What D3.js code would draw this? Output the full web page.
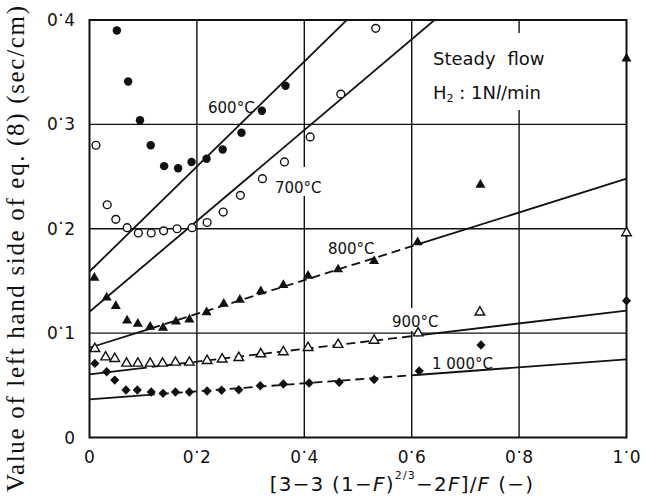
<!DOCTYPE html>
<html>
<head>
<meta charset="utf-8">
<script src="https://cdn.jsdelivr.net/npm/d3@7"></script>
<style>
  body { margin: 0; background: #fff; }
  svg { display: block; }
</style>
</head>
<body>
<svg id="chart" width="645" height="497"></svg>
<script>
// Axis ticks
const xTicks = [0, 0.2, 0.4, 0.6, 0.8, 1.0];
const xTickLabels = ["0", "0·2", "0·4", "0·6", "0·8", "1·0"];
const yTicks = [0, 0.1, 0.2, 0.3, 0.4];
const yTickLabels = ["0", "0·1", "0·2", "0·3", "0·4"];

// Series: temperature labels and measured points
const temps = ["600°C", "700°C", "800°C", "900°C", "1 000°C"];

const x600 = [0.051, 0.072, 0.094, 0.114, 0.139, 0.165, 0.190, 0.218, 0.248, 0.283, 0.321, 0.365];
const y600 = [0.390, 0.341, 0.304, 0.280, 0.260, 0.258, 0.264, 0.267, 0.276, 0.292, 0.313, 0.337];

const x700 = [0.012, 0.033, 0.049, 0.070, 0.091, 0.115, 0.138, 0.163, 0.191, 0.219, 0.249, 0.281, 0.322, 0.363, 0.411, 0.468, 0.533];
const y700 = [0.280, 0.223, 0.209, 0.201, 0.196, 0.196, 0.198, 0.200, 0.201, 0.206, 0.216, 0.232, 0.248, 0.264, 0.288, 0.329, 0.392];

const x800 = [0.009, 0.032, 0.049, 0.070, 0.090, 0.113, 0.137, 0.161, 0.186, 0.218, 0.250, 0.280, 0.319, 0.361, 0.407, 0.463, 0.530, 0.611, 0.728, 1.0];
const y800 = [0.153, 0.134, 0.126, 0.112, 0.109, 0.106, 0.105, 0.111, 0.113, 0.120, 0.128, 0.132, 0.140, 0.146, 0.155, 0.161, 0.169, 0.187, 0.242, 0.363];

const x900 = [0.010, 0.030, 0.047, 0.069, 0.090, 0.113, 0.136, 0.160, 0.186, 0.219, 0.247, 0.278, 0.319, 0.361, 0.407, 0.463, 0.530, 0.612, 0.727, 1.0];
const y900 = [0.085, 0.077, 0.0755, 0.071, 0.071, 0.071, 0.071, 0.072, 0.072, 0.0736, 0.075, 0.0765, 0.080, 0.082, 0.086, 0.089, 0.093, 0.100, 0.120, 0.196];

const x1000 = [0.010, 0.032, 0.047, 0.068, 0.089, 0.115, 0.137, 0.160, 0.186, 0.219, 0.246, 0.278, 0.318, 0.361, 0.409, 0.465, 0.530, 0.614, 0.729, 1.0];
const y1000 = [0.071, 0.063, 0.055, 0.0455, 0.0455, 0.0436, 0.0423, 0.0436, 0.0436, 0.0446, 0.0452, 0.0458, 0.0496, 0.0512, 0.0522, 0.0530, 0.0555, 0.0637, 0.0886, 0.131];

// Fitted straight lines: intercept, slope, and the span drawn dashed
const fitIntercept = [0.159, 0.1205, 0.086, 0.0605, 0.0366];
const fitSlope     = [0.503, 0.435, 0.162, 0.061, 0.0383];
const dashFrom     = [null, null, 0.115, 0.090, 0.105];
const dashTo       = [null, null, 0.611, 0.612, 0.614];

const seriesX = [x600, x700, x800, x900, x1000];
const seriesY = [y600, y700, y800, y900, y1000];

// ---- layout ----
const svg = d3.select("#chart");
const ink = "#111";
const x = d3.scaleLinear().domain([0, 1]).range([89.5, 626.5]);
const y = d3.scaleLinear().domain([0, 0.4]).range([437.5, 20]);

svg.append("rect").attr("width", 645).attr("height", 497).attr("fill", "#fff");

svg.append("defs").append("clipPath").attr("id", "plot")
  .append("rect")
  .attr("x", x(0)).attr("y", y(0.4))
  .attr("width", x(1) - x(0)).attr("height", y(0) - y(0.4));

// grid lines
const grid = svg.append("g").attr("stroke", ink).attr("stroke-width", 1.4);
xTicks.slice(1, -1).forEach(t => {
  grid.append("line").attr("x1", x(t)).attr("x2", x(t)).attr("y1", y(0)).attr("y2", y(0.4));
});
yTicks.slice(1, -1).forEach(t => {
  grid.append("line").attr("x1", x(0)).attr("x2", x(1)).attr("y1", y(t)).attr("y2", y(t));
});

// knock-outs that break the grid behind the annotations
const knock = svg.append("g").attr("fill", "#fff");
[[272, 167, 51, 29], [389, 308, 57, 23], [428, 33, 134, 77]].forEach(r => {
  knock.append("rect").attr("x", r[0]).attr("y", r[1]).attr("width", r[2]).attr("height", r[3]);
});

// frame
svg.append("rect")
  .attr("x", x(0)).attr("y", y(0.4))
  .attr("width", x(1) - x(0)).attr("height", y(0) - y(0.4))
  .attr("fill", "none").attr("stroke", ink).attr("stroke-width", 2);

// fitted lines
const fitG = svg.append("g").attr("clip-path", "url(#plot)")
  .attr("stroke", ink).attr("stroke-width", 1.8).attr("fill", "none");
const lineGen = d3.line().x(d => x(d[0])).y(d => y(d[1]));
function seg(i, a, b, dashed) {
  const f = v => fitIntercept[i] + fitSlope[i] * v;
  const p = fitG.append("path").attr("d", lineGen([[a, f(a)], [b, f(b)]]));
  if (dashed) p.attr("stroke-dasharray", "9,5");
}
fitIntercept.forEach((_, i) => {
  if (dashFrom[i] === null) {
    seg(i, 0, 1, false);
  } else {
    seg(i, 0, dashFrom[i], false);
    seg(i, dashFrom[i], dashTo[i], true);
    seg(i, dashTo[i], 1, false);
  }
});

// markers
const markG = svg.append("g");
const circleFilled = d3.symbol().type(d3.symbolCircle).size(56)();
const circleOpen = d3.symbol().type(d3.symbolCircle).size(48)();
const tri = d3.symbol().type(d3.symbolTriangle).size(44)();
const triOpen = d3.symbol().type(d3.symbolTriangle).size(40)();
const diamond = d3.symbol().type(d3.symbolDiamond).size(40)();
const markerStyle = [
  { d: circleFilled, fill: ink, stroke: "none", sx: 1, sy: 1 },
  { d: circleOpen, fill: "#fff", stroke: ink, sx: 1, sy: 1 },
  { d: tri, fill: ink, stroke: "none", sx: 1, sy: 1 },
  { d: triOpen, fill: "#fff", stroke: ink, sx: 1, sy: 1 },
  { d: diamond, fill: ink, stroke: "none", sx: 1.35, sy: 0.8 }
];
seriesX.forEach((xs, i) => {
  const st = markerStyle[i];
  markG.selectAll(null).data(xs.map((v, k) => [v, seriesY[i][k]]))
    .enter().append("path")
    .attr("d", st.d)
    .attr("transform", d => `translate(${x(d[0])},${y(d[1])}) scale(${st.sx},${st.sy})`)
    .attr("fill", st.fill)
    .attr("stroke", st.stroke)
    .attr("stroke-width", 1.4);
});

// tick labels with raised decimal point
const tickFont = "'DejaVu Sans', sans-serif";
function tickText(sel, label) {
  const parts = label.split("·");
  sel.append("tspan").text(parts[0]);
  if (parts.length > 1) {
    sel.append("tspan").attr("dy", "-0.32em").attr("dx", "0.5").text("·");
    sel.append("tspan").attr("dy", "0.32em").attr("dx", "0.5").text(parts[1]);
  }
}
xTicks.forEach((t, i) => {
  const tx = svg.append("text").attr("x", x(t)).attr("y", 463)
    .attr("text-anchor", "middle").attr("font-family", tickFont)
    .attr("font-size", 17).attr("fill", ink);
  tickText(tx, xTickLabels[i]);
});
yTicks.forEach((t, i) => {
  const ty = svg.append("text").attr("x", 75).attr("y", y(t) + 6)
    .attr("text-anchor", "end").attr("font-family", tickFont)
    .attr("font-size", 17).attr("fill", ink);
  tickText(ty, yTickLabels[i]);
});

// temperature annotations (data coordinates: left edge, baseline)
const labelAt = [[0.2207, 0.3109], [0.3454, 0.2342], [0.4441, 0.1758], [0.5633, 0.1059], [0.6378, 0.0656]];
temps.forEach((t, i) => {
  svg.append("text").attr("x", x(labelAt[i][0])).attr("y", y(labelAt[i][1]))
    .attr("font-family", tickFont).attr("font-size", 15).attr("fill", ink)
    .text(t);
});

// condition note
const note = svg.append("g").attr("font-family", tickFont).attr("font-size", 18).attr("fill", ink);
note.append("text").attr("x", 433).attr("y", 65).attr("word-spacing", 6).text("Steady flow");
const h2 = note.append("text").attr("x", 433).attr("y", 99);
h2.append("tspan").text("H");
h2.append("tspan").attr("font-size", 11).attr("dy", 3).text("2");
h2.append("tspan").attr("dy", -3).text(" : 1N");
h2.append("tspan").attr("font-style", "italic").text("l");
h2.append("tspan").text("/min");

// x axis title
const xt = svg.append("text").attr("x", 402).attr("y", 491)
  .attr("text-anchor", "middle").attr("font-family", tickFont)
  .attr("font-size", 20).attr("letter-spacing", 1.2).attr("fill", ink);
xt.append("tspan").text("[3−3 (1−");
xt.append("tspan").attr("font-style", "italic").text("F");
xt.append("tspan").text(")");
xt.append("tspan").attr("font-size", 11).attr("dy", -12).text("2/3");
xt.append("tspan").attr("dy", 12).text("−2");
xt.append("tspan").attr("font-style", "italic").text("F");
xt.append("tspan").text("]/");
xt.append("tspan").attr("font-style", "italic").text("F");
xt.append("tspan").attr("dx", 8).text("(−)");

// y axis title (serif face)
svg.append("text")
  .attr("transform", "translate(24,249) rotate(-90)")
  .attr("text-anchor", "middle")
  .style("font-family", "'Liberation Serif', 'Times New Roman', Times, serif")
  .style("font-size", "25px")
  .attr("fill", ink)
  .attr("textLength", 486).attr("lengthAdjust", "spacing")
  .text("Value of left hand side of eq. (8) (sec/cm)");
</script>
</body>
</html>
